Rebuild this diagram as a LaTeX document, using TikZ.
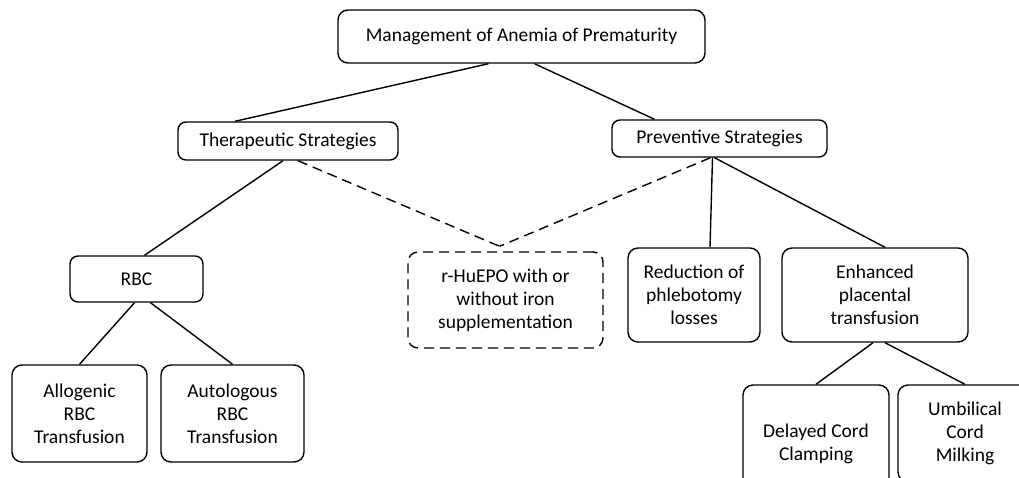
\documentclass[tikz,border=0pt]{standalone}
\usepackage{fontspec}
\setmainfont{Carlito}
\usetikzlibrary{calc}
\begin{document}
\begin{tikzpicture}[x=1pt,y=-1pt,
  box/.style={draw, line width=1.4pt, rounded corners=10pt, align=center, inner sep=2pt, font=\fontsize{19.5}{23}\selectfont},
  link/.style={line width=1.4pt},
  dlink/.style={line width=1.4pt, dash pattern=on 10pt off 6pt}]
\useasboundingbox (0,0) rectangle (1019,477);
\clip (0,0) rectangle (1019,477);
\node[box, minimum width=367pt, minimum height=53pt] (top) at (521.5,36.5) {Management of Anemia of Prematurity};
\node[box, minimum width=220pt, minimum height=38pt, rounded corners=8pt] (ther) at (288,141) {Therapeutic Strategies};
\node[box, minimum width=215pt, minimum height=37pt, rounded corners=8pt] (prev) at (719.5,138.5) {Preventive Strategies};
\node[box, minimum width=133pt, minimum height=46pt, rounded corners=8pt] (rbc) at (136.5,279) {RBC};
\node[box, dash pattern=on 10pt off 6pt, minimum width=195pt, minimum height=96pt] (epo) at (505.5,300) {r-HuEPO with or\\without iron\\supplementation};
\node[box, minimum width=132pt, minimum height=94pt] (red) at (694,295) {Reduction of\\phlebotomy\\losses};
\node[box, minimum width=186pt, minimum height=94pt] (enh) at (875,295) {Enhanced\\placental\\transfusion};
\node[box, minimum width=135pt, minimum height=97pt] (allo) at (79.5,413.5) {Allogenic\\RBC\\Transfusion};
\node[box, minimum width=143pt, minimum height=97pt] (auto) at (232.5,413.5) {Autologous\\RBC\\Transfusion};
\node[box, minimum width=146pt, minimum height=117pt] (delay) at (816,443.5) {Delayed Cord\\Clamping};
\node[box, minimum width=134pt, minimum height=97pt] (umb) at (965,433.5) {Umbilical\\Cord\\Milking};
\coordinate (epotop) at ($(epo.north)+(-6,-5)$);
\draw[link] ($(top.south)+(-33,0)$) -- ($(ther.north)+(-53,0)$);
\draw[link] ($(top.south)+(13,0)$) -- ($(prev.north)+(-65,0)$);
\draw[link] ($(ther.south)+(-5,0)$) -- ($(rbc.north)+(8,0)$);
\draw[dlink] ($(ther.south)+(10,0)$) -- (epotop);
\draw[dlink] ($(prev.south)+(-9,0)$) -- (epotop);
\draw[link] ($(prev.south)+(-7,0)$) -- ($(red.north)+(16,0)$);
\draw[link] ($(prev.south)+(-5,0)$) -- ($(enh.north)+(10,0)$);
\draw[link] ($(rbc.south)+(-2,0)$) -- ($(allo.north)+(0,0)$);
\draw[link] ($(rbc.south)+(14,0)$) -- ($(auto.north)+(0,0)$);
\draw[link] ($(enh.south)+(-2,0)$) -- ($(delay.north)+(0,0)$);
\draw[link] ($(enh.south)+(10,0)$) -- ($(umb.north)+(0,0)$);
\end{tikzpicture}
\end{document}
